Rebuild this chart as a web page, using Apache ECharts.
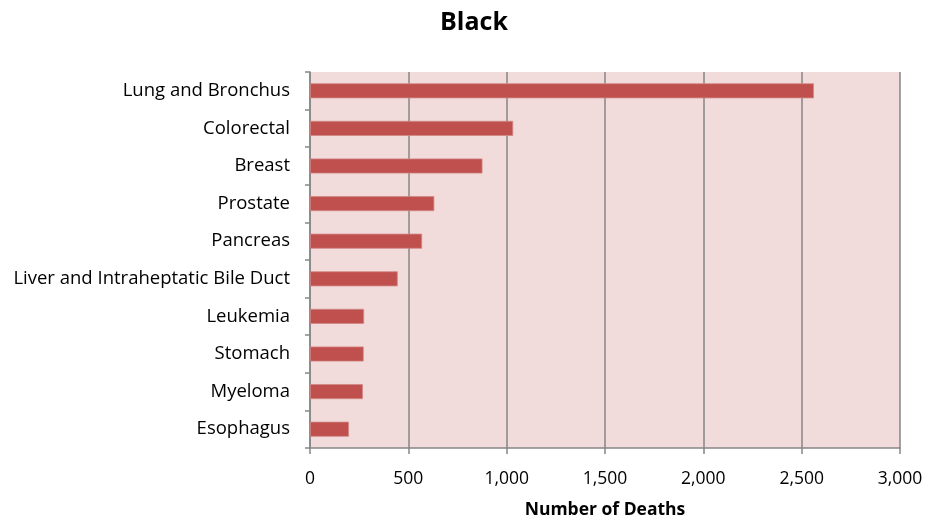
<!DOCTYPE html>
<html>
<head>
<meta charset="utf-8">
<script src="https://cdn.jsdelivr.net/npm/echarts@6/dist/echarts.min.js"></script>
<style>
  html, body { margin: 0; padding: 0; background: #fff; }
  #chart { width: 928px; height: 521px; }
</style>
</head>
<body>
<div id="chart"></div>
<script>
// categories top to bottom
const categories = [
  'Lung and Bronchus', 'Colorectal', 'Breast', 'Prostate', 'Pancreas',
  'Liver and Intraheptatic Bile Duct', 'Leukemia', 'Stomach', 'Myeloma', 'Esophagus'
];
const deaths = [2562, 1033, 877, 632, 570, 446, 275, 273, 269, 198];
const xTicks = [0, 500, 1000, 1500, 2000, 2500, 3000];

const fontFamily = '"Open Sans", Lato, sans-serif';

const myChart = echarts.init(document.getElementById('chart'));
myChart.setOption({
  animation: false,
  title: {
    text: 'Black',
    left: 435,
    top: 5,
    textStyle: { fontFamily, fontSize: 25, fontWeight: 'bold', color: '#000' }
  },
  grid: {
    left: 310, right: 28, top: 72, bottom: 73,
    outerBoundsMode: 'none',
    show: true, backgroundColor: '#F2DCDB', borderWidth: 0
  },
  xAxis: {
    type: 'value',
    min: xTicks[0],
    max: xTicks[xTicks.length - 1],
    interval: 500,
    name: 'Number of Deaths',
    nameLocation: 'middle',
    nameGap: 53,
    nameTextStyle: { fontFamily, fontSize: 17.5, fontWeight: 'bold', color: '#000' },
    axisLine: { show: true, lineStyle: { color: '#868686', width: 1.5 } },
    axisTick: { show: true, length: 6, lineStyle: { color: '#868686', width: 1.5 } },
    axisLabel: {
      fontFamily, fontSize: 17.5, color: '#000', margin: 22,
      formatter: v => v.toLocaleString('en-US')
    },
    splitLine: { show: true, lineStyle: { color: '#868686', width: 1.5 } }
  },
  yAxis: {
    type: 'category',
    inverse: true,
    data: categories,
    axisLine: { show: true, lineStyle: { color: '#868686', width: 1.5 } },
    axisTick: { show: true, length: 5, lineStyle: { color: '#868686', width: 1.5 } },
    axisLabel: { fontFamily, fontSize: 18.5, color: '#000', margin: 20 }
  },
  series: [{
    type: 'bar',
    data: deaths,
    barWidth: '40%',
    itemStyle: { color: '#C0504D', borderColor: '#D08886', borderWidth: 0.8 }
  }]
});
</script>
</body>
</html>
